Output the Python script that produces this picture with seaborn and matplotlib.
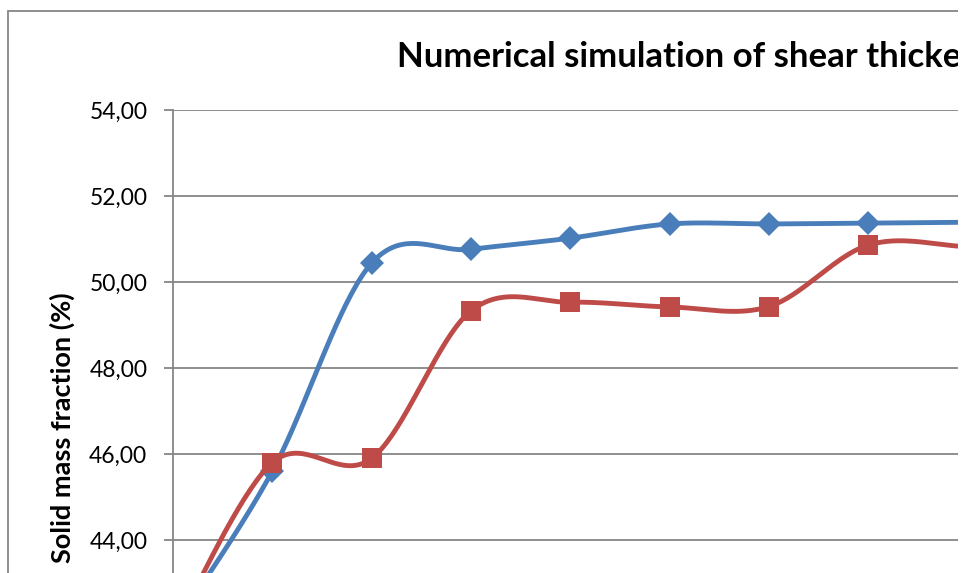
import numpy as np
import matplotlib.pyplot as plt
import matplotlib.patches as mpatches
import pandas as pd
import seaborn as sns

# data (category index, solid mass fraction in %)
categories = list(range(10))
series_a = [41.95, 45.60, 50.44, 50.76, 51.02, 51.35, 51.35, 51.37, 51.39, 51.42]
series_b = [41.85, 45.80, 45.90, 49.33, 49.53, 49.42, 49.43, 50.86, 50.82, 50.70]
title = "Numerical simulation of shear thickening"
ylabel = "Solid mass fraction (%)"
ytick_vals = [44, 46, 48, 50, 52, 54]

BLUE = "#4A7EBB"
RED = "#BE4B48"
GREY = "#868686"

W, H = 963, 573
PX_X, PX_Y = 99.35, 43.0   # pixels per category / per y unit


def smooth(xs, ys, n=40):
    # excel-like smoothed line: catmull-rom in screen space
    p = np.column_stack([np.asarray(xs, float) * PX_X, np.asarray(ys, float) * PX_Y])
    p = np.vstack([p[0], p, p[-1]])
    out = []
    t = np.linspace(0, 1, n)[:, None]
    for i in range(1, len(p) - 2):
        p0, p1, p2, p3 = p[i - 1], p[i], p[i + 1], p[i + 2]
        c1 = p1 + (p2 - p0) / 6
        c2 = p2 - (p3 - p1) / 6
        seg = ((1 - t) ** 3) * p1 + 3 * ((1 - t) ** 2) * t * c1 + 3 * (1 - t) * t ** 2 * c2 + t ** 3 * p2
        out.append(seg if i == 1 else seg[1:])
    out = np.vstack(out)
    return out[:, 0] / PX_X, out[:, 1] / PX_Y


sns.set_theme(style="white")
plt.rcParams['font.family'] = ['Lato', 'DejaVu Sans']
plt.rcParams['text.color'] = 'black'

fig = plt.figure(figsize=(W / 100, H / 100), dpi=100)

# axes deliberately extend past the right and bottom edges (cropped chart)
y0, y1 = 40, 54
x0, x1 = 0, 10
left, top = 173, 110
ax_w = (x1 - x0) * PX_X
ax_h = (y1 - y0) * PX_Y
ax = fig.add_axes([left / W, 1 - (top + ax_h) / H, ax_w / W, ax_h / H])

for vals, col, mk, ms in [(series_a, BLUE, "D", 12), (series_b, RED, "s", 14)]:
    sx, sy = smooth(categories, vals)
    sns.lineplot(x=sx, y=sy, sort=False, color=col, lw=3.5, ax=ax, estimator=None)
    sns.lineplot(x=categories, y=vals, sort=False, color=col, lw=0, marker=mk,
                 markersize=ms, markeredgewidth=0, ax=ax, estimator=None)

ax.set_xlim(x0, x1)
ax.set_ylim(y0, y1)
ax.set_yticks(ytick_vals)
ax.set_yticklabels([f"{v:.2f}".replace(".", ",") for v in ytick_vals])
ax.set_xticks([])
ax.grid(axis="y", color=GREY, lw=1.3)
ax.set_axisbelow(True)
for s in ["top", "right", "bottom"]:
    ax.spines[s].set_visible(False)
ax.spines["left"].set_color(GREY)
ax.spines["left"].set_linewidth(1.3)
ax.tick_params(axis="y", length=6.5, width=1.3, color=GREY, direction="out",
               left=True, pad=12, labelsize=16.5, labelcolor="black")
ax.set_xlabel("")
ax.set_ylabel("")

# title is cut by the right edge, as in the source crop
fig.text(397 / W, 1 - 67 / H, title, ha="left", va="baseline", color="black",
         fontsize=25, fontweight="bold", zorder=3)
fig.text(62 / W, 1 - 428 / H, ylabel, rotation=90, ha="center", va="center",
         color="black", fontsize=19.5, fontweight="bold")

# outer chart border, also cropped at right/bottom
fig.patches.append(mpatches.Rectangle((8 / W, -0.5), 2, 1 - 10.5 / H + 0.5,
                                      transform=fig.transFigure, fill=False,
                                      edgecolor=GREY, lw=1.3))
# the source crop ends a few pixels before the right edge
fig.patches.append(mpatches.Rectangle((958 / W, 0), 1, 1, transform=fig.transFigure,
                                      facecolor="white", edgecolor="none", zorder=10))

fig.savefig("out.png", dpi=100)
